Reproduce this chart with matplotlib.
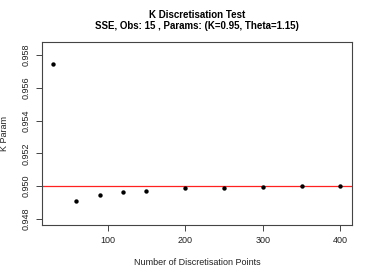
import matplotlib
matplotlib.use('Agg')
import matplotlib.pyplot as plt

plt.rcParams['font.family'] = ['Liberation Sans', 'DejaVu Sans']

disc_points = [30, 60, 90, 120, 150, 200, 250, 300, 350, 400]
k_param = [0.95746, 0.94910, 0.94943, 0.94961, 0.94971, 0.94985, 0.94990, 0.94994, 0.94998, 0.95000]
true_k = 0.95
x_ticks = [100, 200, 300, 400]
y_ticks = [0.948, 0.950, 0.952, 0.954, 0.956, 0.958]

fig = plt.figure(figsize=(3.74, 2.78), dpi=100)
ax = fig.add_axes([0.1115, 0.1896, 0.8295, 0.6584])

ax.scatter(disc_points, k_param, s=10, color='black', zorder=3, linewidths=0)
ax.axhline(true_k, color='#ff2020', lw=0.9, zorder=2)

ax.set_xlim(15.2, 414.8)
ax.set_ylim(0.94760, 0.95879)
ax.set_xticks(x_ticks)
ax.set_yticks(y_ticks)
ax.set_yticklabels([f'{v:.3f}' for v in y_ticks], rotation=90, va='center')

for sp in ax.spines.values():
    sp.set_color('#444444')
    sp.set_linewidth(0.8)
ax.tick_params(axis='both', labelsize=6.5, length=4, width=0.7, color='#444444',
               labelcolor='#222222', pad=4)

ax.set_xlabel('Number of Discretisation Points', fontsize=6.5, color='#222222', labelpad=9)
ax.set_ylabel('K Param', fontsize=6.5, color='#222222', labelpad=9)

# titles centred over the plot region, like R does
cx = 0.1115 + 0.8295 / 2
fig.text(cx, 0.946, 'K Discretisation Test', ha='center', va='center',
         fontsize=7, fontweight='bold')
fig.text(cx, 0.905, 'SSE, Obs: 15 , Params: (K=0.95, Theta=1.15)', ha='center',
         va='center', fontsize=7, fontweight='bold')

fig.savefig('out.png', dpi=100)
